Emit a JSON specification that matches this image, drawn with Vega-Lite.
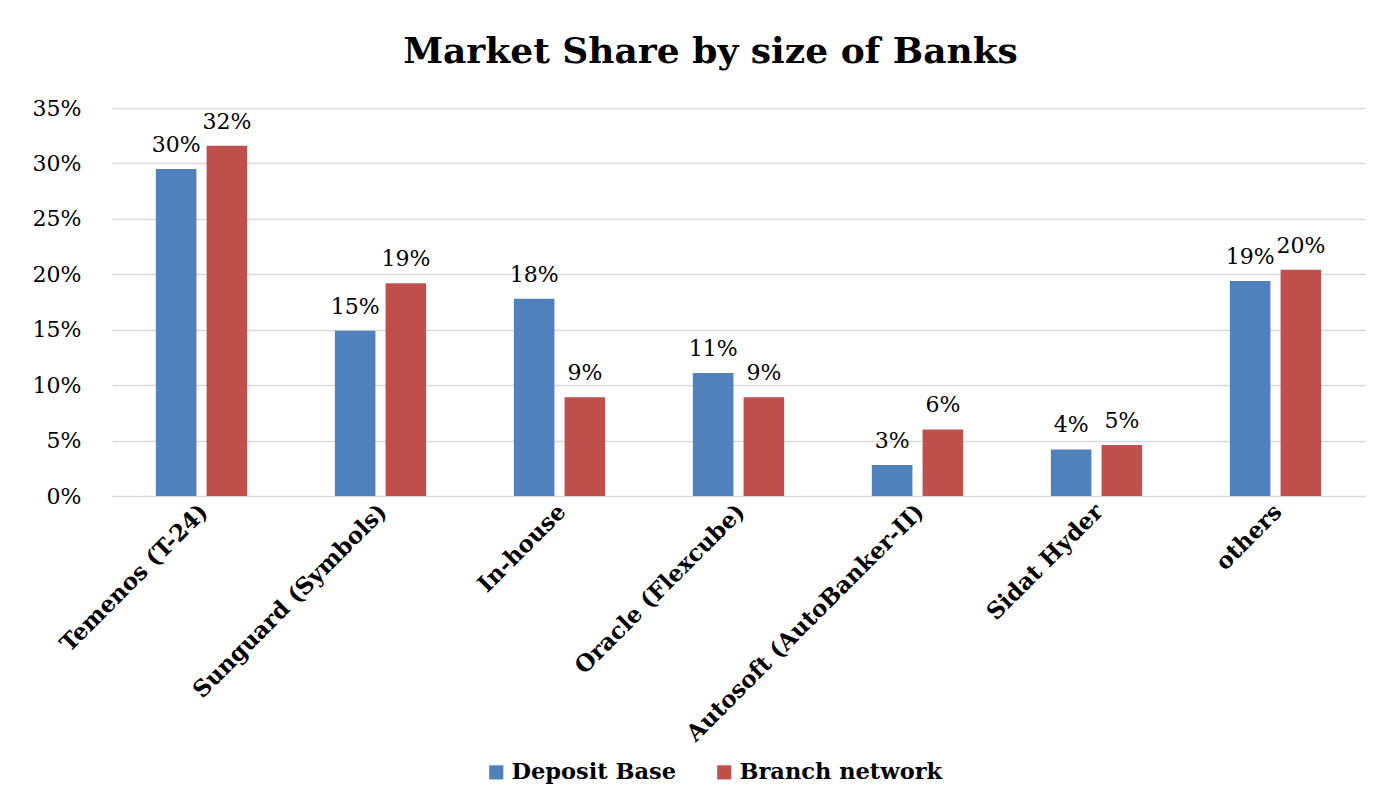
{
  "$schema": "https://vega.github.io/schema/vega-lite/v6.json",
  "autosize": {"type": "none"},
  "width": 1253,
  "height": 388,
  "padding": {"left": 112, "top": 108, "right": 35, "bottom": 313},
  "background": "white",
  "config": {
    "view": {"stroke": null},
    "font": "DejaVu Serif"
  },
  "title": {
    "text": "Market Share by size of Banks",
    "font": "DejaVu Serif",
    "fontSize": 36,
    "fontWeight": "bold",
    "color": "black",
    "anchor": "middle",
    "dx": -28,
    "offset": 26
  },
  "data": {
    "values": [
      {"vendor": "Temenos (T-24)", "series": "Deposit Base", "share": 0.295},
      {"vendor": "Temenos (T-24)", "series": "Branch network", "share": 0.316},
      {"vendor": "Sunguard (Symbols)", "series": "Deposit Base", "share": 0.149},
      {"vendor": "Sunguard (Symbols)", "series": "Branch network", "share": 0.192},
      {"vendor": "In-house", "series": "Deposit Base", "share": 0.178},
      {"vendor": "In-house", "series": "Branch network", "share": 0.089},
      {"vendor": "Oracle (Flexcube)", "series": "Deposit Base", "share": 0.111},
      {"vendor": "Oracle (Flexcube)", "series": "Branch network", "share": 0.089},
      {"vendor": "Autosoft (AutoBanker-II)", "series": "Deposit Base", "share": 0.028},
      {"vendor": "Autosoft (AutoBanker-II)", "series": "Branch network", "share": 0.06},
      {"vendor": "Sidat Hyder", "series": "Deposit Base", "share": 0.042},
      {"vendor": "Sidat Hyder", "series": "Branch network", "share": 0.046},
      {"vendor": "others", "series": "Deposit Base", "share": 0.194},
      {"vendor": "others", "series": "Branch network", "share": 0.204}
    ]
  },
  "encoding": {
    "x": {
      "field": "vendor",
      "type": "nominal",
      "sort": null,
      "scale": {"paddingInner": 0.49, "paddingOuter": 0.245},
      "axis": {
        "title": null,
        "labelAngle": -45,
        "labelFont": "DejaVu Serif",
        "labelFontSize": 23,
        "labelFontWeight": "bold",
        "labelColor": "black",
        "labelPadding": 4,
        "labelOffset": -5,
        "ticks": false,
        "domain": false,
        "labelLimit": 400
      }
    },
    "xOffset": {
      "field": "series",
      "type": "nominal",
      "sort": ["Deposit Base", "Branch network"],
      "scale": {"paddingInner": 0.2, "paddingOuter": 0}
    },
    "y": {
      "field": "share",
      "type": "quantitative",
      "scale": {"domain": [0, 0.35], "nice": false},
      "axis": {
        "title": null,
        "format": ".0%",
        "values": [0, 0.05, 0.1, 0.15, 0.2, 0.25, 0.3, 0.35],
        "labelFont": "DejaVu Serif",
        "labelFontSize": 22,
        "labelColor": "black",
        "labelPadding": 31,
        "ticks": false,
        "domain": false,
        "gridColor": "#d9d9d9",
        "gridWidth": 1.5
      }
    }
  },
  "layer": [
    {
      "mark": {"type": "bar"},
      "encoding": {
        "color": {
          "field": "series",
          "type": "nominal",
          "sort": ["Deposit Base", "Branch network"],
          "scale": {"domain": ["Deposit Base", "Branch network"], "range": ["#4F81BD", "#C0504D"]},
          "legend": {
            "title": null,
            "orient": "none",
            "direction": "horizontal",
            "legendX": 373,
            "legendY": 653,
            "symbolType": "square",
            "symbolSize": 200,
            "symbolOpacity": 1,
            "labelFont": "DejaVu Serif",
            "labelFontSize": 22.5,
            "labelFontWeight": "bold",
            "labelColor": "black",
            "columnPadding": 36,
            "labelLimit": 300
          }
        }
      }
    },
    {
      "mark": {"type": "text", "baseline": "alphabetic", "dy": -17, "fontSize": 22, "font": "DejaVu Serif", "color": "black"},
      "encoding": {
        "text": {"field": "share", "type": "quantitative", "format": ".0%"}
      }
    }
  ]
}
